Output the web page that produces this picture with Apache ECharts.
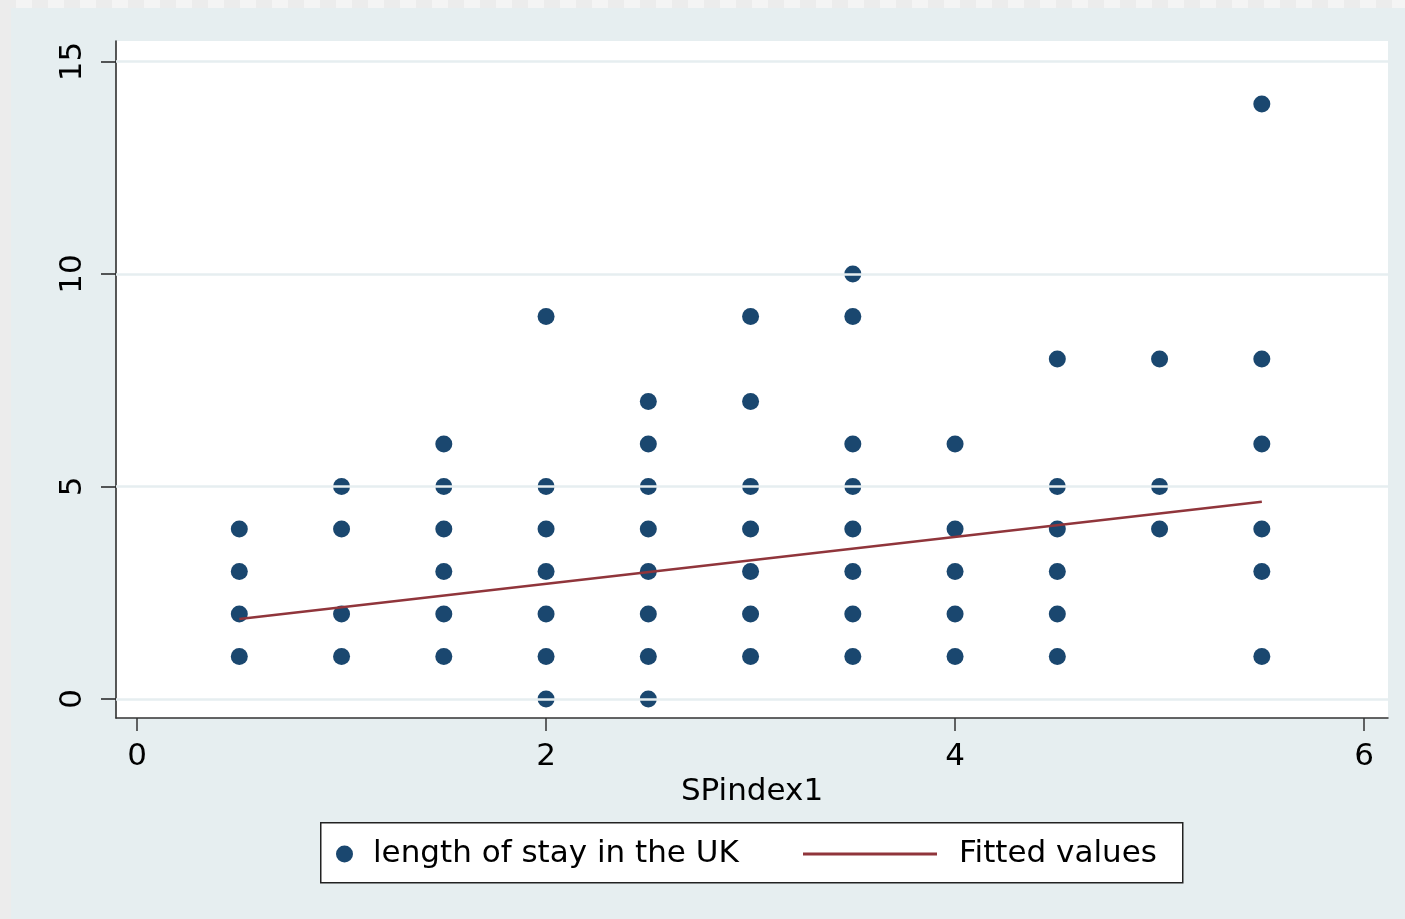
<!DOCTYPE html>
<html><head><meta charset="utf-8">
<script src="https://cdn.jsdelivr.net/npm/echarts@6/dist/echarts.min.js"></script>
<style>
html,body{margin:0;padding:0;background:#e6eef0;}
#chart{position:absolute;left:0;top:0;width:1405px;height:919px;}
#topstrip{position:absolute;left:0;top:0;width:1405px;height:8px;background:repeating-linear-gradient(90deg,#ececec 0 16px,#f4f4f4 16px 32px);z-index:5}
#leftstrip{position:absolute;left:0;top:0;width:11px;height:919px;background:#ececec;z-index:5}
</style></head>
<body>
<div id="chart"></div><div id="topstrip"></div><div id="leftstrip"></div>
<script>
const spIndex = [0.5, 1, 1.5, 2, 2.5, 3, 3.5, 4, 4.5, 5, 5.5];
const stayValues = [
  [4, 3, 2, 1],
  [5, 4, 2, 1],
  [6, 5, 4, 3, 2, 1],
  [9, 5, 4, 3, 2, 1, 0],
  [7, 6, 5, 4, 3, 2, 1, 0],
  [9, 7, 5, 4, 3, 2, 1],
  [10, 9, 6, 5, 4, 3, 2, 1],
  [6, 4, 3, 2, 1],
  [8, 5, 4, 3, 2, 1],
  [8, 5, 4],
  [14, 8, 6, 4, 3, 1]
];
const fitX = [0.5, 5.5];
const fitY = [1.88, 4.64];
const xTicks = [0, 2, 4, 6];
const yTicks = [0, 5, 10, 15];
const seriesNames = ['length of stay in the UK', 'Fitted values'];
const xAxisTitle = 'SPindex1';

const FONT = 'DejaVu Sans';
const scatterData = [];
spIndex.forEach((x, i) => stayValues[i].forEach(v => scatterData.push([x, v])));
const fitData = fitX.map((x, i) => [x, fitY[i]]);

const chart = echarts.init(document.getElementById('chart'));
chart.setOption({
  backgroundColor: '#e6eef0',
  animation: false,
  grid: { left: 116, top: 41, right: 17, bottom: 201, show: true, backgroundColor: '#fff', borderWidth: 0 },
  xAxis: {
    type: 'value', min: -0.103, max: 6.117,
    axisLine: { show: true, onZero: false, lineStyle: { color: '#333', width: 1.5 } },
    axisTick: { show: true, customValues: xTicks, length: 13, lineStyle: { color: '#333', width: 1.5 } },
    axisLabel: { customValues: xTicks, fontSize: 31, fontFamily: FONT, color: '#000', margin: 23 },
    splitLine: { show: false },
    name: xAxisTitle, nameLocation: 'middle', nameGap: 51,
    nameTextStyle: { fontSize: 31, fontFamily: FONT, color: '#000' }
  },
  yAxis: {
    type: 'value', min: -0.447, max: 15.48,
    axisLine: { show: true, onZero: false, lineStyle: { color: '#222', width: 1.5 } },
    axisTick: { show: true, customValues: yTicks, length: 15, lineStyle: { color: '#222', width: 1.5 } },
    axisLabel: { customValues: yTicks, fontSize: 31, fontFamily: FONT, color: '#000', margin: 28, rotate: 90 },
    splitLine: { show: false }
  },
  legend: [
    { data: [seriesNames[0]], left: 336, top: 837, padding: 0, itemWidth: 17, itemHeight: 17, icon: 'circle', selectedMode: false,
      textStyle: { fontSize: 31, fontFamily: FONT, color: '#000', lineHeight: 34, padding: [0, 0, 0, 15] } },
    { data: [seriesNames[1]], left: 803, top: 837, padding: 0, itemWidth: 134, itemHeight: 3, icon: 'rect', selectedMode: false,
      textStyle: { fontSize: 31, fontFamily: FONT, color: '#000', lineHeight: 34, padding: [0, 0, 0, 17] } }
  ],
  graphic: [
    { type: 'rect', left: 320, top: 822, z: 0, shape: { width: 862, height: 60 }, style: { fill: '#fff', stroke: '#222', lineWidth: 1.5 } }
  ],
  series: [
    { type: 'line', data: [], z: 1, silent: true,
      markLine: { silent: true, symbol: 'none', label: { show: false },
        lineStyle: { color: '#e6eef0', width: 2.5, type: 'solid' },
        data: yTicks.map(v => ({ yAxis: v })) } },
    { name: seriesNames[0], type: 'scatter', data: scatterData, symbolSize: 17, z: 2,
      itemStyle: { color: '#1a476f', opacity: 1 } },
    { name: seriesNames[1], type: 'line', data: fitData, symbol: 'none', showSymbol: false, z: 3,
      lineStyle: { color: '#90353b', width: 2.5 }, itemStyle: { color: '#90353b' } }
  ]
});
</script>
</body></html>
